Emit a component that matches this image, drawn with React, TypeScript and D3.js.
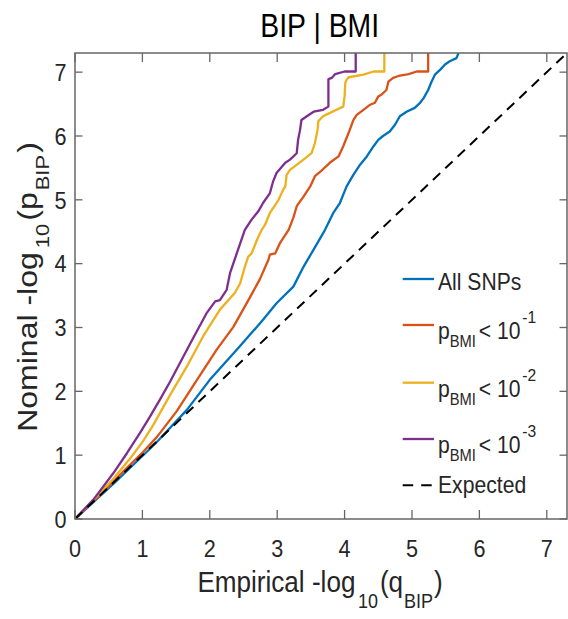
import React from "react";
import * as d3 from "d3";

// ---- data ----
const allSnps: [number, number][] = [
  [0, 0], [0.6, 0.58], [1.2, 1.19], [1.66, 1.71], [2.0, 2.18], [2.4, 2.65], [2.79, 3.12],
  [2.99, 3.38], [3.24, 3.64], [3.39, 3.95], [3.54, 4.22], [3.71, 4.53], [3.83, 4.79],
  [3.93, 4.95], [4.03, 5.21], [4.13, 5.39], [4.23, 5.55], [4.33, 5.68], [4.43, 5.84],
  [4.5, 5.94], [4.57, 6.0], [4.67, 6.07], [4.75, 6.18], [4.82, 6.31], [4.92, 6.38],
  [5.04, 6.44], [5.12, 6.52], [5.17, 6.59], [5.24, 6.72], [5.29, 6.85], [5.34, 6.96],
  [5.42, 7.04], [5.49, 7.12], [5.56, 7.17], [5.66, 7.22], [5.69, 7.3], [5.7, 7.4],
];
const pBmi1: [number, number][] = [
  [0, 0], [0.4, 0.41], [0.77, 0.8], [1.01, 1.05], [1.22, 1.29], [1.51, 1.69], [1.81, 2.18],
  [2.1, 2.65], [2.35, 3.01], [2.6, 3.48], [2.74, 3.75], [2.87, 4.06], [2.89, 4.14],
  [2.97, 4.16], [3.04, 4.32], [3.17, 4.53], [3.24, 4.72], [3.29, 4.9], [3.39, 5.05],
  [3.49, 5.21], [3.56, 5.37], [3.64, 5.44], [3.78, 5.58], [3.91, 5.68], [3.98, 5.84],
  [4.06, 6.05], [4.13, 6.25], [4.18, 6.33], [4.28, 6.41], [4.38, 6.49], [4.45, 6.52],
  [4.5, 6.62], [4.55, 6.65], [4.62, 6.72], [4.65, 6.85], [4.72, 6.91], [4.8, 6.94],
  [4.95, 6.97], [5.07, 7.01], [5.24, 7.01], [5.24, 7.4],
];
const pBmi2: [number, number][] = [
  [0, 0], [0.57, 0.63], [0.82, 0.95], [1.01, 1.22], [1.16, 1.47], [1.41, 1.94], [1.66, 2.39],
  [1.9, 2.86], [2.15, 3.28], [2.37, 3.54], [2.45, 3.69], [2.52, 3.95], [2.57, 4.11],
  [2.62, 4.16], [2.7, 4.37], [2.77, 4.53], [2.82, 4.61], [2.89, 4.79], [3.02, 5.0],
  [3.09, 5.16], [3.12, 5.21], [3.14, 5.39], [3.19, 5.47], [3.39, 5.63], [3.51, 5.73],
  [3.56, 5.89], [3.6, 6.1], [3.61, 6.23], [3.68, 6.31], [3.76, 6.35], [3.88, 6.41],
  [3.98, 6.46], [4.0, 6.62], [4.01, 6.83], [4.03, 6.88], [4.06, 6.92], [4.28, 6.96],
  [4.43, 7.01], [4.59, 7.01], [4.59, 7.4],
];
const pBmi3: [number, number][] = [
  [0, 0], [0.27, 0.3], [0.57, 0.72], [0.77, 1.03], [0.96, 1.34], [1.11, 1.6], [1.26, 1.87],
  [1.41, 2.15], [1.71, 2.75], [1.95, 3.22], [2.08, 3.41], [2.15, 3.43], [2.25, 3.59],
  [2.3, 3.85], [2.4, 4.16], [2.52, 4.53], [2.62, 4.69], [2.72, 4.82], [2.79, 4.95],
  [2.89, 5.1], [2.94, 5.29], [2.99, 5.42], [3.12, 5.58], [3.19, 5.63], [3.29, 5.73],
  [3.31, 5.94], [3.34, 6.1], [3.36, 6.25], [3.44, 6.31], [3.54, 6.38], [3.68, 6.41],
  [3.76, 6.46], [3.76, 6.89], [3.81, 6.91], [3.86, 6.97], [4.0, 7.01], [4.165, 7.01],
  [4.165, 7.4],
];
const expected: [number, number][] = [[0, 0], [7.3, 7.3]];

const seriesNames = ["All SNPs", "p<10^-1", "p<10^-2", "p<10^-3"];
const seriesColors = ["#0072BD", "#D95319", "#EDB120", "#7E2F8E"];
const superscripts = ["-1", "-2", "-3"];
const xTicks = [0, 1, 2, 3, 4, 5, 6, 7];
const yTicks = [0, 1, 2, 3, 4, 5, 6, 7];
const domainMax = 7.3;

const W = 568;
const H = 619;
const FONT = "'Liberation Sans', Arial, Helvetica, sans-serif";
const INK = "#262626";

export default function App() {
  const left = 75, right = 567, top = 53, bottom = 519;
  const x = d3.scaleLinear().domain([0, domainMax]).range([left, right]);
  const y = d3.scaleLinear().domain([0, domainMax]).range([bottom, top]);
  const line = d3.line<[number, number]>().x((d) => x(d[0])).y((d) => y(d[1]));
  const allSeries = [allSnps, pBmi1, pBmi2, pBmi3];

  const legX1 = 402.7, legX2 = 434, legTextX = 438;
  const legLineY = [279, 325, 382.7, 439, 485.3];
  const legBase = [290, 339, 396.7, 452.7, 493.3];

  return (
    <svg
      width={W}
      height={H}
      style={{ position: "absolute", left: 0, top: 0, background: "#fff" }}
      fontFamily={FONT}
    >
      <rect x={0} y={0} width={W} height={H} fill="#fff" />
      <defs>
        <clipPath id="plotclip">
          <rect x={left} y={top} width={right - left} height={bottom - top} />
        </clipPath>
      </defs>

      {/* title */}
      <text
        transform={`translate(319.7,36.7) scale(0.86,1)`}
        textAnchor="middle"
        fontSize={33}
        fill="#000"
      >
        BIP | BMI
      </text>

      {/* series */}
      <g clipPath="url(#plotclip)">
        {allSeries.map((s, i) => (
          <path
            key={i}
            d={line(s) || ""}
            fill="none"
            stroke={seriesColors[i]}
            strokeWidth={2.3}
            strokeLinejoin="round"
          />
        ))}
        <path
          d={line(expected) || ""}
          fill="none"
          stroke="#000"
          strokeWidth={2}
          strokeDasharray="10,7"
        />
      </g>

      {/* axes box */}
      <rect
        x={left}
        y={top}
        width={right - left}
        height={bottom - top}
        fill="none"
        stroke="#666"
        strokeWidth={1.5}
      />
      {xTicks.map((t) => (
        <g key={"xt" + t}>
          <line x1={x(t)} x2={x(t)} y1={bottom} y2={bottom - 9} stroke="#666" strokeWidth={1.3} />
          <line x1={x(t)} x2={x(t)} y1={top} y2={top + 9} stroke="#666" strokeWidth={1.3} />
          <text
            transform={`translate(${x(t)},557) scale(0.9,1)`}
            textAnchor="middle"
            fontSize={24}
            fill={INK}
          >
            {t}
          </text>
        </g>
      ))}
      {yTicks.map((t) => (
        <g key={"yt" + t}>
          <line x1={left} x2={left + 7.5} y1={y(t)} y2={y(t)} stroke="#666" strokeWidth={1.3} />
          <line x1={right} x2={right - 7.5} y1={y(t)} y2={y(t)} stroke="#666" strokeWidth={1.3} />
          <text
            transform={`translate(66.5,${y(t) + 8.7}) scale(0.9,1)`}
            textAnchor="end"
            fontSize={24}
            fill={INK}
          >
            {t}
          </text>
        </g>
      ))}

      {/* x label */}
      <text
        transform={`translate(320,591.7) scale(0.9,1)`}
        textAnchor="middle"
        fontSize={29}
        fill={INK}
      >
        Empirical -log
        <tspan fontSize={20} dx={3} dy={16}>10</tspan>
        <tspan dx={2} dy={-16}>(q</tspan>
        <tspan fontSize={20} dx={1} dy={16}>BIP</tspan>
        <tspan dx={1} dy={-16}>)</tspan>
      </text>

      {/* y label */}
      <text
        transform={`translate(36.5,287) scale(0.84,1) rotate(-90)`}
        textAnchor="middle"
        fontSize={32}
        fill={INK}
      >
        Nominal -log
        <tspan fontSize={22} dx={4} dy={15}>10</tspan>
        <tspan dx={3} dy={-15}>(p</tspan>
        <tspan fontSize={22} dx={2} dy={15}>BIP</tspan>
        <tspan dx={2} dy={-15}>)</tspan>
      </text>

      {/* legend */}
      {seriesNames.map((name, i) => (
        <g key={"leg" + i}>
          <line
            x1={legX1}
            x2={legX2}
            y1={legLineY[i]}
            y2={legLineY[i]}
            stroke={seriesColors[i]}
            strokeWidth={2.3}
          />
          {i === 0 ? (
            <text
              transform={`translate(${legTextX},${legBase[i]}) scale(0.92,1)`}
              fontSize={23}
              fill={INK}
            >
              {name}
            </text>
          ) : (
            <text
              transform={`translate(${legTextX},${legBase[i]}) scale(0.92,1)`}
              fontSize={23}
              fill={INK}
            >
              p
              <tspan fontSize={16} dy={8}>BMI</tspan>
              <tspan dx={3} dy={-8}>{"< 10"}</tspan>
              <tspan fontSize={17} dx={2} dy={-16}>{superscripts[i - 1]}</tspan>
            </text>
          )}
        </g>
      ))}
      <line
        x1={legX1}
        x2={legX2}
        y1={legLineY[4]}
        y2={legLineY[4]}
        stroke="#000"
        strokeWidth={2}
        strokeDasharray="10.5,8"
      />
      <text
        transform={`translate(${legTextX},${legBase[4]}) scale(0.92,1)`}
        fontSize={23}
        fill={INK}
      >
        Expected
      </text>
    </svg>
  );
}
